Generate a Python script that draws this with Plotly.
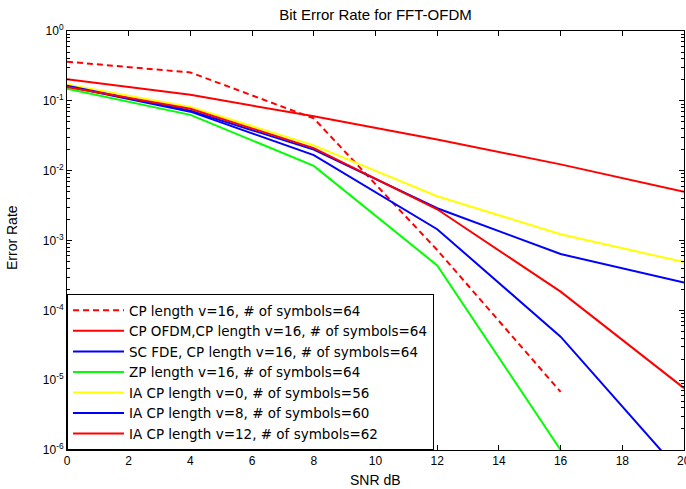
import plotly.graph_objects as go

snr = [0, 4, 8, 12, 16, 20]

cp_v16_dashed = [0.363, 0.255, 0.056, 7.3e-4, 6.8e-6, None]
cp_ofdm = [0.203, 0.122, 0.060, 0.028, 0.0123, 0.0050]
sc_fde = [0.162, 0.070, 0.0167, 1.45e-3, 4.2e-5, 4.2e-7]
zp_v16 = [0.149, 0.063, 0.0117, 4.4e-4, 1.0e-6, None]
ia_v0 = [0.172, 0.082, 0.023, 4.3e-3, 1.23e-3, 4.9e-4]
ia_v8 = [0.165, 0.072, 0.020, 2.9e-3, 6.4e-4, 2.5e-4]
ia_v12 = [0.158, 0.077, 0.021, 2.8e-3, 1.85e-4, 7.7e-6]

names = [
    "CP length v=16, # of symbols=64",
    "CP OFDM,CP length v=16, # of symbols=64",
    "SC FDE, CP length v=16, # of symbols=64",
    "ZP length v=16, # of symbols=64",
    "IA CP length v=0, # of symbols=56",
    "IA CP length v=8, # of symbols=60",
    "IA CP length v=12, # of symbols=62",
]
series = [cp_v16_dashed, cp_ofdm, sc_fde, zp_v16, ia_v0, ia_v8, ia_v12]
colors = ["#FF0000", "#FF0000", "#0000FF", "#00FF00", "#FFFF00", "#0000FF", "#FF0000"]
dashes = ["6px,4px", "solid", "solid", "solid", "solid", "solid", "solid"]

y_tickvals = [1e-6, 1e-5, 1e-4, 1e-3, 1e-2, 1e-1, 1]
y_ticktext = ["10<sup>-6</sup>", "10<sup>-5</sup>", "10<sup>-4</sup>", "10<sup>-3</sup>",
              "10<sup>-2</sup>", "10<sup>-1</sup>", "10<sup>0</sup>"]
x_tickvals = [0, 2, 4, 6, 8, 10, 12, 14, 16, 18, 20]
x_last_label = "20"

FONT = "Liberation Sans, Arial, sans-serif"
LFONT = "DejaVu Sans, sans-serif"

fig = go.Figure()
for nm, ys, c, d in zip(names, series, colors, dashes):
    fig.add_trace(go.Scatter(x=snr, y=ys, name=nm, mode="lines",
                             line=dict(color=c, width=2, dash=d),
                             connectgaps=False))

W, H = 686, 489
L, R, T, B = 67, 2, 31, 39

fig.update_layout(
    width=W, height=H,
    margin=dict(l=L, r=R, t=T, b=B),
    paper_bgcolor="white", plot_bgcolor="white",
    font=dict(family=FONT, size=12, color="black"),
    showlegend=True,
    legend=dict(x=0, y=0, xanchor="left", yanchor="bottom",
                bgcolor="white", bordercolor="black", borderwidth=1,
                font=dict(family=LFONT, size=13.5, color="black"),
                itemwidth=51, tracegroupgap=0),
    title=dict(text="Bit Error Rate for FFT-OFDM", x=0.5, xref="paper",
               y=1 - 15 / H, yref="container", yanchor="middle", xanchor="center",
               font=dict(family=FONT, size=15, color="black")),
)

fig.update_xaxes(range=[0, 20], tickvals=x_tickvals, ticks="inside", ticklen=5,
                 tickcolor="black", showline=True, linecolor="black", linewidth=1,
                 mirror="ticks", showgrid=False, zeroline=False,
                 tickfont=dict(family=FONT, size=12, color="black"))
fig.update_yaxes(type="log", range=[-6, 0], tickvals=y_tickvals, ticktext=y_ticktext,
                 ticks="inside", ticklen=5, tickcolor="black", showline=True,
                 linecolor="black", linewidth=1, mirror="ticks", showgrid=False,
                 zeroline=False, tickfont=dict(family=FONT, size=12, color="black"),
                 minor=dict(ticks="inside", ticklen=3, tickcolor="black", dtick="D1",
                            showgrid=False))

plot_h = H - T - B
plot_w = W - L - R
fig.add_annotation(text="SNR dB", xref="paper", yref="paper", x=0.5,
                   y=(H - B - 480) / plot_h, xanchor="center", yanchor="middle",
                   showarrow=False, font=dict(family=FONT, size=14, color="black"))
fig.add_annotation(text="Error Rate", xref="paper", yref="paper",
                   x=(12 - L) / plot_w, y=(H - B - 238) / plot_h, textangle=-90,
                   xanchor="center", yanchor="middle", showarrow=False,
                   font=dict(family=FONT, size=14, color="black"))
# last x tick label, partly cut by the right edge as in the reference
fig.add_annotation(text=x_last_label, xref="x", yref="paper", x=snr[-1],
                   y=(H - B - 461) / plot_h, xanchor="center", yanchor="middle",
                   showarrow=False, font=dict(family=FONT, size=12, color="black"))

fig.write_html("out.html",
               config={"displayModeBar": False},
               post_script="document.body.style.margin='0px';"
                           "document.body.style.overflow='hidden';")
